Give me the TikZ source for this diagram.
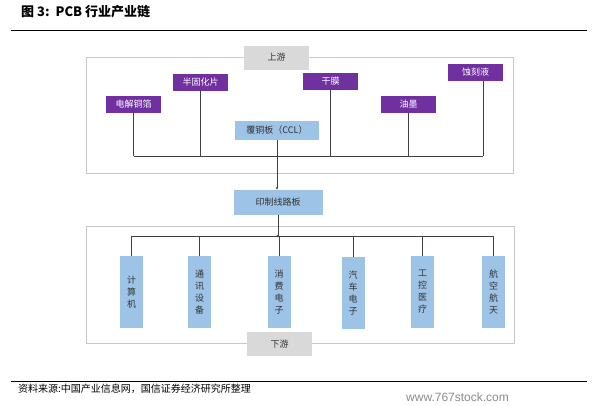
\documentclass[tikz,border=0pt]{standalone}
\usepackage{fontspec}
\newfontfamily\cjk{Noto Sans CJK SC}
\setmainfont{Liberation Sans}
\usetikzlibrary{arrows.meta}
\definecolor{purp}{HTML}{7030A0}
\definecolor{lblue}{HTML}{9DC3E6}
\definecolor{lgray}{HTML}{D9D9D9}
\definecolor{frame}{HTML}{C8C8C8}
\definecolor{wire}{HTML}{404040}
\tikzset{
  upbox/.style={fill=purp, text=white, minimum width=55pt, minimum height=17pt, inner sep=0pt, font=\cjk\fontsize{9}{10}\selectfont},
  bluebox/.style={fill=lblue, text=black!80, inner sep=0pt, font=\cjk\fontsize{9}{10}\selectfont},
  downbox/.style={fill=lblue, text=black!80, minimum width=23pt, minimum height=72pt, inner sep=0pt, align=center, font=\cjk\fontsize{9}{12}\selectfont},
  graybox/.style={fill=lgray, text=black!80, minimum width=65pt, minimum height=24pt, inner sep=0pt, font=\cjk\fontsize{9}{10}\selectfont},
  framebox/.style={draw=frame, line width=0.8pt},
  wireline/.style={draw=wire, line width=0.8pt},
  rule/.style={draw=black, line width=0.9pt}
}
\begin{document}
\begin{tikzpicture}[x=1pt,y=-1pt]
\useasboundingbox (0,0) rectangle (595,405);
\fill[white] (0,0) rectangle (595,405);
% title and rules
\node[anchor=west, inner sep=0pt, font=\cjk\bfseries\fontsize{13}{15}\selectfont] (title) at (21,12) {图 3:\ \ PCB 行业产业链};
\coordinate (r1a) at (11,30); \coordinate (r1b) at (587,30);
\draw[rule] (r1a) -- (r1b);
\coordinate (r2a) at (11,381); \coordinate (r2b) at (587,381);
\draw[rule] (r2a) -- (r2b);
\node[anchor=west, inner sep=0pt, font=\cjk\fontsize{10}{11}\selectfont] (src) at (18,389) {资料来源:中国产业信息网，国信证券经济研究所整理};
\node[anchor=west, inner sep=0pt, text=black!45, font=\fontsize{12}{13}\selectfont] (wm) at (406,397) {www.767stock.com};
% frames
\draw[framebox] (86,57) rectangle (513,173);
\draw[framebox] (86,226) rectangle (514,343);
% gray labels
\node[graybox] (up) at (276.5,57.5) {上游};
\node[graybox] (down) at (279.5,344) {下游};
% upstream boxes
\node[upbox] (a1) at (133.5,104) {电解铜箔};
\node[upbox] (a2) at (200.5,82) {半固化片};
\node[upbox] (a3) at (330.5,81.5) {干膜};
\node[upbox] (a4) at (408.5,104) {油墨};
\node[upbox] (a5) at (475.5,72.5) {蚀刻液};
\node[bluebox, minimum width=84pt, minimum height=19pt] (ccl) at (277,130.5) {覆铜板（CCL）};
\coordinate (busL) at (133.5,156);
\coordinate (busR) at (483,156);
\draw[wireline] (busL) -- (busR);
\draw[wireline] (a1.south) -- (a1.south |- busL);
\draw[wireline] (a2.south) -- (a2.south |- busL);
\draw[wireline] (a3.south) -- (a3.south |- busL);
\draw[wireline] (a4.south) -- (a4.south |- busL);
\draw[wireline] (a5.south -| busR) -- (busR);
% PCB
\node[bluebox, minimum width=89pt, minimum height=25pt] (pcb) at (278,202.5) {印制线路板};
\draw[wireline, -{Stealth[length=3pt,width=2.5pt]}] (ccl.south) -- (ccl.south |- pcb.north);
% downstream
\node[downbox] (d1) at (131.5,292) {计\\算\\机};
\node[downbox] (d2) at (199.5,292) {通\\讯\\设\\备};
\node[downbox] (d3) at (279,292) {消\\费\\电\\子};
\node[downbox] (d4) at (353,293) {汽\\车\\电\\子};
\node[downbox] (d5) at (422.5,292) {工\\控\\医\\疗};
\node[downbox] (d6) at (493.5,292) {航\\空\\航\\天};
\coordinate (dbL) at (131.5,236);
\coordinate (dbR) at (493.5,236);
\draw[wireline] (dbL) -- (dbR);
\draw[wireline] (pcb.south) -- (pcb.south |- dbL);
\fill[wire] (pcb.south |- dbL) circle (1.3pt);
\foreach \n in {d1,d2,d3,d4,d5,d6} \draw[wireline] (\n.north |- dbL) -- (\n.north);
\end{tikzpicture}
\end{document}
